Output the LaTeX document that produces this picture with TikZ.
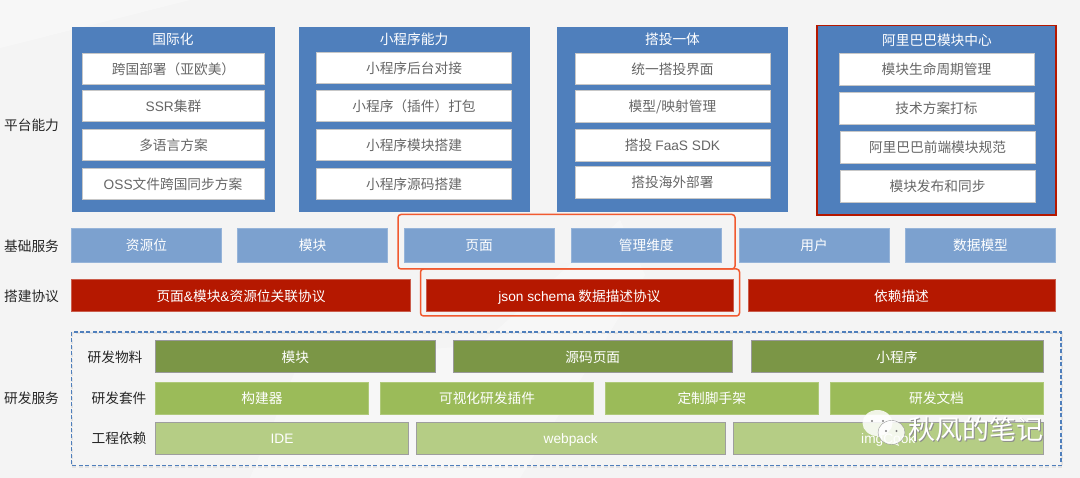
\documentclass[tikz,border=0pt]{standalone}
\usepackage{fontspec}
\setmainfont{Noto Sans CJK SC}
\newfontfamily\latfont{Liberation Sans}

\definecolor{pagegray}{HTML}{F4F4F4}
\definecolor{panelblue}{HTML}{4F7FBC}
\definecolor{serviceblue}{HTML}{7CA1CF}
\definecolor{protored}{HTML}{B51800}
\definecolor{darkgreen}{HTML}{7B9646}
\definecolor{midgreen}{HTML}{9BBB59}
\definecolor{palegreen}{HTML}{B5CD85}
\definecolor{markorange}{HTML}{F15A30}
\definecolor{textgray}{HTML}{666666}

% box given by its corners: style, name, x0, y0, x1, y1, text
\newcommand{\cell}[7]{
    \pgfmathsetmacro{\cellx}{(#3+#5)/2}
    \pgfmathsetmacro{\celly}{(#4+#6)/2}
    \pgfmathsetmacro{\cellw}{#5-#3}
    \pgfmathsetmacro{\cellh}{#6-#4}
    \node[#1, minimum width=\cellw, minimum height=\cellh] (#2) at (\cellx,\celly) {#7};
}
\newcommand{\lat}[1]{{\latfont #1}}

\begin{document}
\begin{tikzpicture}[x=1pt, y=-1pt,
    every node/.style={inner sep=0pt, outer sep=0pt, text height=13.5pt, text depth=2pt,
        font=\fontsize{13.7}{16}\selectfont},
    panel/.style={fill=panelblue},
    title/.style={text=white},
    item/.style={fill=white, draw=black!22, line width=0.6pt, text=textgray},
    service/.style={fill=serviceblue, draw=serviceblue!80!white, line width=0.4pt, text=white},
    proto/.style={fill=protored, draw=protored!70!white, line width=0.4pt, text=white},
    matter/.style={fill=darkgreen, draw=black!40, line width=0.6pt, text=white},
    kit/.style={fill=midgreen, draw=midgreen!80!white, line width=0.4pt, text=white},
    depend/.style={fill=palegreen, draw=black!38, line width=0.6pt, text=white},
    rowlabel/.style={text=black!85},
    markbox/.style={draw=markorange, line width=1.5pt, rounded corners=3pt},
    waterbig/.style={font=\fontsize{27}{30}\selectfont, text height=23pt, text depth=3pt}]

    \useasboundingbox (0,0) rectangle (1080,478);
    \fill[pagegray] (0,0) rectangle (1080,478);
    \fill[white, opacity=0.35] (0,0) -- (190,0) -- (0,48) -- cycle;
    \fill[white, opacity=0.35] (250,478) -- (300,360) -- (480,345) -- (620,220) -- (645,275) -- (520,478) -- cycle;

    % platform
    \node[rowlabel] (labelPlatform) at (31.5,125) {平台能力};

    \cell{panel}{intl}{71.5}{27}{274.5}{212}{}
    \node[title] (intlTitle) at (173,39) {国际化};
    \cell{item}{intlA}{82.5}{53.5}{264.5}{84.5}{跨国部署（亚欧美）}
    \cell{item}{intlB}{82.5}{90.5}{264.5}{121.5}{\lat{SSR}集群}
    \cell{item}{intlC}{82.5}{129.5}{264.5}{160.5}{多语言方案}
    \cell{item}{intlD}{82}{168.5}{264}{199.5}{\lat{OSS}文件跨国同步方案}

    \cell{panel}{mini}{298.5}{27}{529.5}{212}{}
    \node[title] (miniTitle) at (414,39) {小程序能力};
    \cell{item}{miniA}{316.5}{52.5}{511.5}{83.5}{小程序后台对接}
    \cell{item}{miniB}{316.5}{90.5}{511.5}{121.5}{小程序（插件）打包}
    \cell{item}{miniC}{316.5}{129.5}{511.5}{160.5}{小程序模块搭建}
    \cell{item}{miniD}{316.5}{168.5}{511.5}{199.5}{小程序源码搭建}

    \cell{panel}{buy}{557}{27}{788}{212.5}{}
    \node[title] (buyTitle) at (672.5,39) {搭投一体};
    \cell{item}{buyA}{575}{53.5}{770}{84.5}{统一搭投界面}
    \cell{item}{buyB}{575}{90.5}{770}{122}{模型/映射管理}
    \cell{item}{buyC}{575}{129.5}{770}{161}{搭投 \lat{FaaS SDK}}
    \cell{item}{buyD}{575}{166.5}{770}{198}{搭投海外部署}

    \cell{panel}{center}{817}{25.5}{1056}{215}{}
    \draw[protored, line width=1.8pt] (center.north west) rectangle (center.south east);
    \node[title] (centerTitle) at (937,39.5) {阿里巴巴模块中心};
    \cell{item}{centerA}{839}{53.5}{1034}{85}{模块生命周期管理}
    \cell{item}{centerB}{839}{92.5}{1034}{124}{技术方案打标}
    \cell{item}{centerC}{840}{131.5}{1035}{163}{阿里巴巴前端模块规范}
    \cell{item}{centerD}{840}{170.5}{1035}{202}{模块发布和同步}

    % base services
    \node[rowlabel] (labelService) at (31.5,245.5) {基础服务};
    \cell{service}{slot}{71.5}{228}{221.5}{262.5}{资源位}
    \cell{service}{module}{237.5}{228}{387.5}{262.5}{模块}
    \cell{service}{page}{404}{228}{554}{262.5}{页面}
    \cell{service}{dimension}{571}{228}{721.5}{262.5}{管理维度}
    \cell{service}{user}{739}{228}{889}{262.5}{用户}
    \cell{service}{model}{905.5}{228}{1055.5}{262.5}{数据模型}

    % protocols
    \node[rowlabel] (labelProto) at (31.5,295.5) {搭建协议};
    \cell{proto}{link}{71.5}{279.5}{410.5}{311.5}{页面\lat{\&}模块\lat{\&}资源位关联协议}
    \cell{proto}{schema}{426}{279.5}{733}{311.5}{\lat{json schema} 数据描述协议}
    \cell{proto}{deps}{748}{279.5}{1055}{311.5}{依赖描述}

    \draw[markbox] (398,214.5) rectangle (735,269);
    \draw[markbox] (420.5,269) rectangle (739.5,316);

    % dev services
    \draw[black, opacity=0.07, line width=2pt, dash pattern=on 4pt off 2.4pt] (72,333.5) rectangle (1062,467.5);
    \draw[panelblue, line width=1.8pt, dash pattern=on 4pt off 2.4pt] (71.5,332) rectangle (1061,465.5);
    \node[rowlabel] (labelDev) at (31.5,398) {研发服务};

    \node[rowlabel] (labelMatter) at (115,357) {研发物料};
    \cell{matter}{matterA}{155.5}{340.5}{435}{372.5}{模块}
    \cell{matter}{matterB}{453}{340.5}{732.5}{372.5}{源码页面}
    \cell{matter}{matterC}{751}{340.5}{1043}{372.5}{小程序}

    \node[rowlabel] (labelKit) at (119,398) {研发套件};
    \cell{kit}{kitA}{155.5}{382.5}{368.5}{414}{构建器}
    \cell{kit}{kitB}{380.5}{382.5}{593.5}{414}{可视化研发插件}
    \cell{kit}{kitC}{605.5}{382.5}{818}{414}{定制脚手架}
    \cell{kit}{kitD}{830}{382.5}{1043}{414}{研发文档}

    \node[rowlabel] (labelDep) at (119,438) {工程依赖};
    \cell{depend}{depA}{155.5}{422.5}{408.5}{454}{\lat{IDE}}
    \cell{depend}{depB}{416}{422.5}{725.5}{454}{\lat{webpack}}
    \cell{depend}{depC}{733.5}{422.5}{1043}{454}{\lat{imgCook}}

    % watermark
    \fill[white, opacity=0.85] (877.5,423) ellipse[x radius=15, y radius=13];
    \fill[black!50] (872,421) circle[radius=1.2] (883,421) circle[radius=1.2];
    \fill[white, opacity=0.85] (892,443) -- (899,446) -- (897,441) -- cycle;
    \draw[black!40, fill=white, fill opacity=0.85, line width=0.4pt] (891.5,432.5) ellipse[x radius=13.5, y radius=12];
    \fill[black!50] (886,431) circle[radius=1.2] (896.5,431) circle[radius=1.2];
    \node[waterbig, text=black!45] (markShadow) at (976.8,430.8) {秋风的笔记};
    \node[waterbig, text=white] (markText) at (976,430) {秋风的笔记};
\end{tikzpicture}
\end{document}
